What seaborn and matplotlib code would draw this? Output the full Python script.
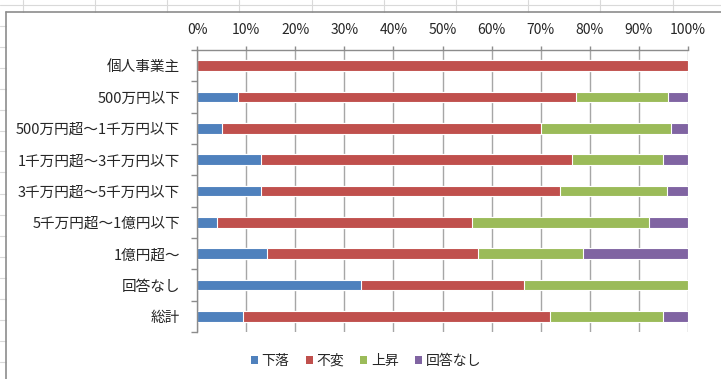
import numpy as np
import pandas as pd
import seaborn as sns
import matplotlib.pyplot as plt
from matplotlib.patches import Patch
from matplotlib.lines import Line2D

# data (percent of each row)
categories = ['個人事業主', '500万円以下', '500万円超～1千万円以下', '1千万円超～3千万円以下',
              '3千万円超～5千万円以下', '5千万円超～1億円以下', '1億円超～', '回答なし', '総計']
series_names = ['下落', '不変', '上昇', '回答なし']
decline = [0, 8.3, 5.1, 13.1, 13.0, 4.1, 14.3, 33.3, 9.3]
unchanged = [100, 68.8, 64.9, 63.3, 60.9, 51.9, 42.9, 33.3, 62.5]
rise = [0, 18.8, 26.6, 18.6, 21.8, 36.0, 21.4, 33.4, 23.2]
no_answer = [0, 4.1, 3.4, 5.0, 4.3, 8.0, 21.4, 0, 5.0]
x_ticks = list(range(0, 101, 10))

colors = ['#4F81BD', '#C0504D', '#9BBB59', '#8064A2']

sns.set_style('white')
plt.rcParams['font.family'] = ['Noto Sans CJK JP', 'DejaVu Sans']

W, H = 721, 379
fig = plt.figure(figsize=(W / 100, H / 100), dpi=100)

# spreadsheet cells peeking out around the chart area
cell = '#d9d9d9'
fig.add_artist(Line2D([0, 1], [1 - 4.5 / H] * 2, color=cell, lw=0.8))
for gx in np.arange(22.7, W, 72.2):
    fig.add_artist(Line2D([gx / W] * 2, [1, 1 - 12 / H], color=cell, lw=0.8))
for gy in np.arange(25.5, H, 21):
    fig.add_artist(Line2D([0, 6 / W], [1 - gy / H] * 2, color=cell, lw=0.8))
# chart area border
fig.add_artist(Line2D([6 / W] * 2, [0, 1 - 12 / H], color='#8c8c8c', lw=1.2))
fig.add_artist(Line2D([6 / W, 1], [1 - 12 / H] * 2, color='#8c8c8c', lw=1.2))

ax = fig.add_axes([197 / W, 1 - 332 / H, (688 - 197) / W, (332 - 50) / H])

df = pd.DataFrame({'区分': categories, '下落': decline, '不変': unchanged,
                   '上昇': rise, '回答なし': no_answer})
cum = df[series_names].cumsum(axis=1)

# stacked bars: draw cumulative totals from the longest down
for name, col in reversed(list(zip(series_names, colors))):
    sns.barplot(x=cum[name], y=df['区分'], order=categories, orient='h',
                color=col, saturation=1, width=0.35, edgecolor='white',
                linewidth=0.8, ax=ax)

ax.set_xlim(0, 100)
ax.set_ylim(len(categories) - 0.5, -0.5)
ax.set_xlabel('')
ax.set_ylabel('')
ax.xaxis.tick_top()
ax.set_xticks(x_ticks)
ax.set_xticklabels([f'{t}%' for t in x_ticks])
ax.grid(axis='x', color='#a6a6a6', lw=1)
ax.set_axisbelow(True)

for side in ['right', 'bottom']:
    ax.spines[side].set_visible(False)
for side in ['top', 'left']:
    ax.spines[side].set_color('#8c8c8c')
    ax.spines[side].set_linewidth(1)

ax.tick_params(axis='x', which='major', top=True, bottom=False, length=3, width=1,
               color='#8c8c8c', pad=6, labelsize=10, labelcolor='#262626')
ax.tick_params(axis='y', which='major', left=False, length=0, pad=12,
               labelsize=10.5, labelcolor='#262626')
ax.set_yticks(np.arange(-0.5, len(categories), 1), minor=True)
ax.tick_params(axis='y', which='minor', left=True, length=4.3, width=1, color='#8c8c8c')

handles = [Patch(facecolor=c, edgecolor='none') for c in colors]
fig.legend(handles, series_names, loc='center', bbox_to_anchor=(366 / W, 1 - 361 / H),
           ncol=4, frameon=False, handlelength=0.5, handleheight=0.5,
           handletextpad=0.25, columnspacing=1.2, fontsize=10, labelcolor='#262626')

fig.savefig('out.png', dpi=100)
